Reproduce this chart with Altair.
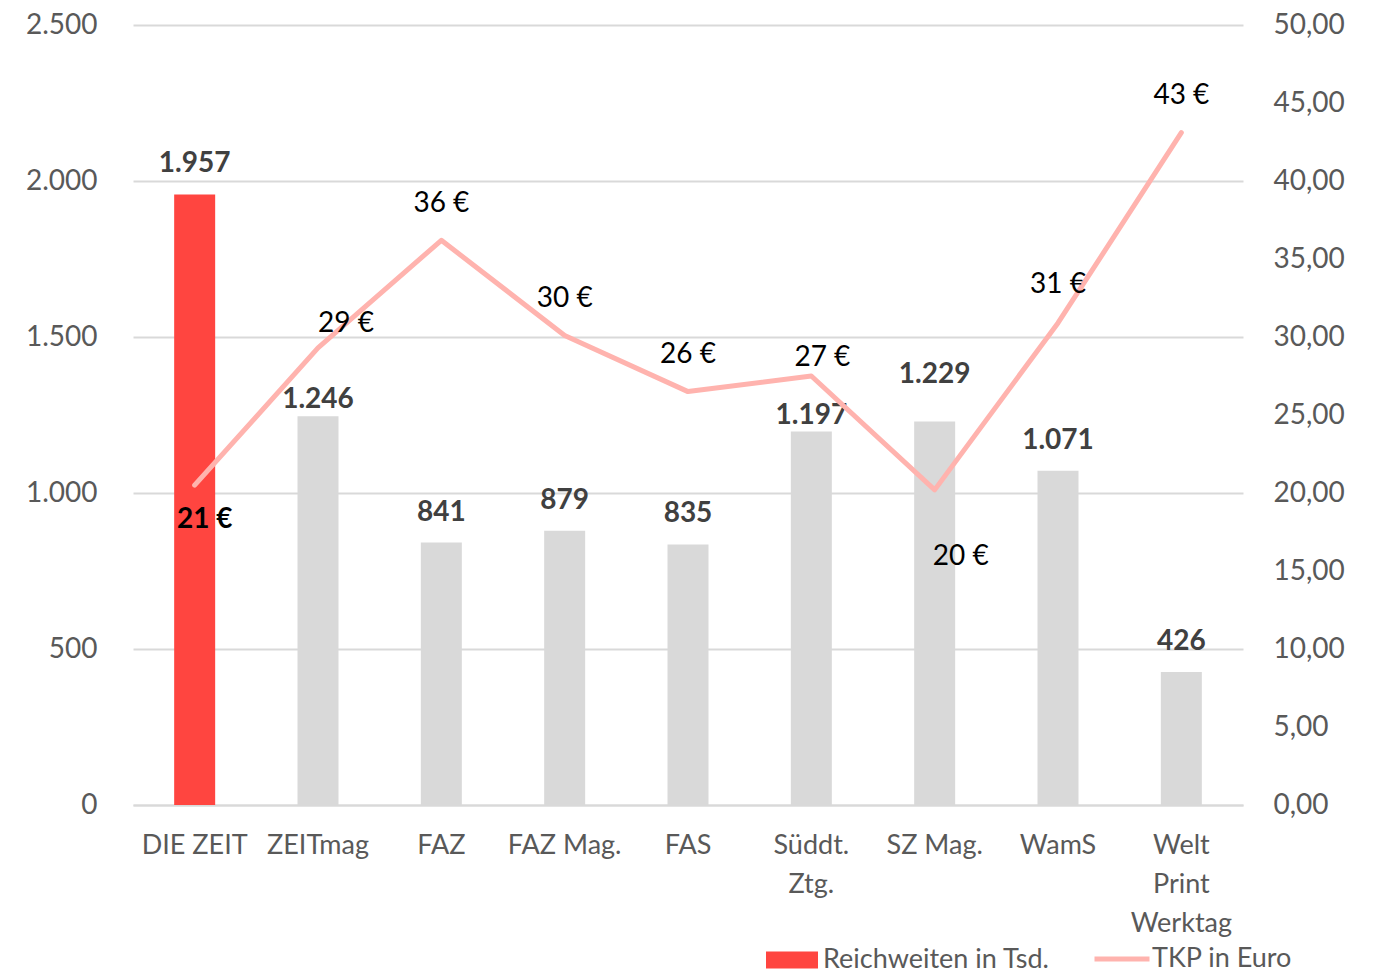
import altair as alt
import pandas as pd

categories = ["DIE ZEIT", "ZEITmag", "FAZ", "FAZ Mag.", "FAS", "Süddt.\nZtg.", "SZ Mag.", "WamS", "Welt\nPrint\nWerktag"]
reichweite = [1957, 1246, 841, 879, 835, 1197, 1229, 1071, 426]
tkp = [20.5, 29.3, 36.2, 30.1, 26.5, 27.5, 20.2, 30.9, 43.1]
tkp_labels = [21, 29, 36, 30, 26, 27, 20, 31, 43]
highlight = "DIE ZEIT"

# label placement offsets in pixels (style only)
bar_label_dy = [-30, -16, -30, -30, -30, -16, -47, -30, -30]
tkp_label_dx = [10, 28, 0, 0, 0, 11, 26, 0, 0]
tkp_label_dy = [35, -24, -36, -36, -37, -18, 67, -38, -37]

FONT = "Lato"
RED = "#ff4540"
GRAY = "#d9d9d9"
PINK = "#ffb3ae"

df = pd.DataFrame({
    "Kategorie": categories,
    "Reichweite": reichweite,
    "TKP": tkp,
    "TKPLabel": [f"{v} €" for v in tkp_labels],
    "s1": ["Reichweiten in Tsd."] * len(categories),
    "s2": ["TKP in Euro"] * len(categories),
})

xs = alt.X("Kategorie:N", sort=categories)

x = alt.X("Kategorie:N", sort=categories, title=None,
          scale=alt.Scale(paddingInner=0.0, paddingOuter=0.0),
          axis=alt.Axis(labelExpr="split(datum.label, '\\n')", labelAngle=0,
                        labelFont=FONT, labelFontSize=27, labelColor="#595959",
                        labelPadding=27, labelLineHeight=39, ticks=False,
                        domainColor=GRAY, domainWidth=2))

yl = alt.Y("Reichweite:Q", title=None,
           scale=alt.Scale(domain=[0, 2500], nice=False),
           axis=alt.Axis(values=[0, 500, 1000, 1500, 2000, 2500],
                         labelExpr="replace(format(datum.value, ','), ',', '.')",
                         labelFont=FONT, labelFontSize=28, labelColor="#595959",
                         labelPadding=36, ticks=False, domain=False,
                         grid=True, gridColor=GRAY, gridWidth=2))

yr = alt.Y("TKP:Q", title=None,
           scale=alt.Scale(domain=[0, 50], nice=False),
           axis=alt.Axis(orient="right", values=[0, 5, 10, 15, 20, 25, 30, 35, 40, 45, 50],
                         labelExpr="replace(format(datum.value, '.2f'), '.', ',')",
                         labelFont=FONT, labelFontSize=28, labelColor="#595959",
                         labelPadding=30, ticks=False, domain=False, grid=False))

base = alt.Chart(df)

bars = base.mark_bar(size=41).encode(
    x=x,
    y=yl,
    color=alt.condition(
        alt.datum.Kategorie != highlight,
        alt.value(GRAY),
        alt.Color("s1:N", scale=alt.Scale(domain=["Reichweiten in Tsd."], range=[RED]),
                  legend=alt.Legend(title=None, orient="none", legendX=633, legendY=909,
                                    symbolType="M-1,-0.33H1V0.33H-1Z", symbolSize=2704,
                                    symbolStrokeWidth=0, labelOffset=5, labelLimit=500,
                                    labelFont=FONT, labelFontSize=27, labelColor="#595959")),
    ),
)

bar_texts = []
for cat, dy in zip(categories, bar_label_dy):
    bar_texts.append(
        base.transform_filter(alt.datum.Kategorie == cat).transform_calculate(
            lbl="replace(format(datum.Reichweite, ','), ',', '.')"
        ).mark_text(font=FONT, fontSize=28, fontWeight="bold", color="#404040",
                    baseline="middle", dy=dy).encode(
            x=xs, y=alt.Y("Reichweite:Q"), text="lbl:N")
    )

left = alt.layer(bars, *bar_texts)

line = base.mark_line(strokeWidth=5, strokeCap="round", strokeJoin="round").encode(
    x=xs,
    y=yr,
    stroke=alt.Stroke("s2:N", scale=alt.Scale(domain=["TKP in Euro"], range=[PINK]),
                      legend=alt.Legend(title=None, orient="none", legendX=959, legendY=904,
                                        symbolType="stroke", symbolSize=3025,
                                        symbolStrokeWidth=5, labelOffset=0, labelLimit=500,
                                        labelFont=FONT, labelFontSize=27, labelColor="#595959")),
)

line_texts = []
for cat, dx, dy in zip(categories, tkp_label_dx, tkp_label_dy):
    line_texts.append(
        base.transform_filter(alt.datum.Kategorie == cat).mark_text(
            font=FONT, fontSize=28, color="#000000", baseline="middle",
            fontWeight="bold" if cat == highlight else "normal", dx=dx, dy=dy).encode(
            x=xs, y=alt.Y("TKP:Q"), text="TKPLabel:N")
    )

right = alt.layer(line, *line_texts)

chart = alt.layer(left, right).resolve_scale(
    y="independent", color="independent", stroke="independent"
).properties(
    width=1110, height=780,
    padding={"left": 17, "top": 3, "right": 5, "bottom": 0},
).configure(background="white").configure_view(stroke=None)

chart.save("out.html", embed_options={"renderer": "svg", "actions": False})
